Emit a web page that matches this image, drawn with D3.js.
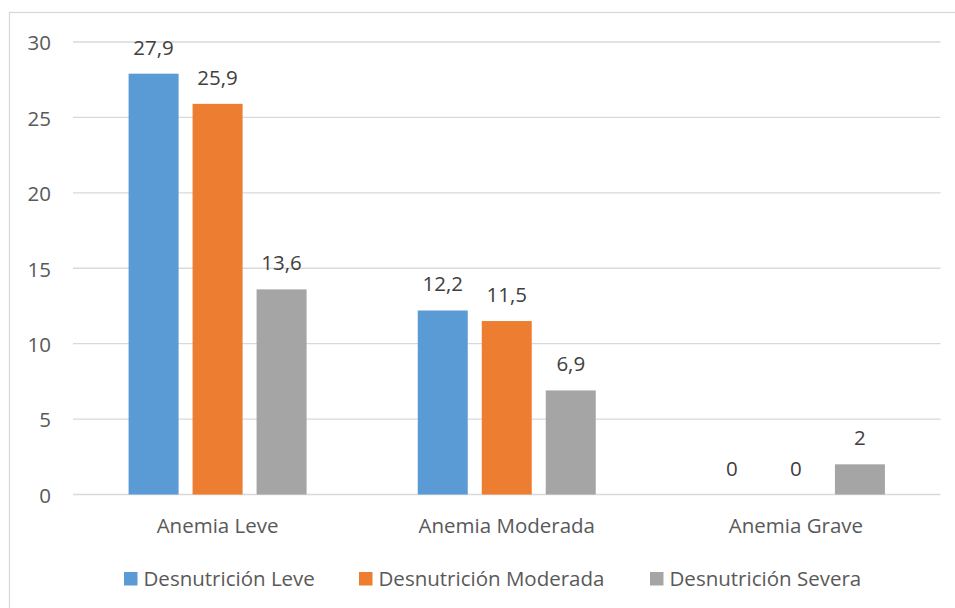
<!DOCTYPE html>
<html>
<head>
<meta charset="utf-8">
<script src="https://cdn.jsdelivr.net/npm/d3@7"></script>
<style>
  html, body { margin: 0; padding: 0; background: #fff; }
  svg { display: block; font-family: "Open Sans", "Noto Sans", sans-serif; }
</style>
</head>
<body>
<svg id="chart" width="955" height="608"></svg>
<script>
// Anemia category on the x axis, malnutrition level as the series
const categories = ["Anemia Leve", "Anemia Moderada", "Anemia Grave"];
const seriesNames = ["Desnutrición Leve", "Desnutrición Moderada", "Desnutrición Severa"];
const desnutricionLeve = [27.9, 12.2, 0];
const desnutricionModerada = [25.9, 11.5, 0];
const desnutricionSevera = [13.6, 6.9, 2];
const yTicks = [0, 5, 10, 15, 20, 25, 30];
const colors = ["#5b9bd5", "#ed7d31", "#a5a5a5"];

const seriesValues = [desnutricionLeve, desnutricionModerada, desnutricionSevera];

const svg = d3.select("#chart");
const plot = { left: 73, right: 940.5, top: 42, bottom: 494.5 };
const fontSize = 20.5;
const fontFamily = "\"Open Sans\", sans-serif";

// outer chart frame
svg.append("rect")
  .attr("x", 9.5).attr("y", 12.5)
  .attr("width", 960).attr("height", 610)
  .attr("fill", "none").attr("stroke", "#d9d9d9").attr("stroke-width", 1.3);

const x0 = d3.scaleBand().domain(categories).range([plot.left, plot.right]).padding(0);
const y = d3.scaleLinear().domain([0, 30]).range([plot.bottom, plot.top]);

// bars are 50px wide with 14px gaps inside each category band
const barW = 50, barGap = 14;
const x1 = d3.scaleOrdinal().domain(seriesNames)
  .range(seriesNames.map((s, i) => (i - 1) * (barW + barGap) - barW / 2));

// horizontal gridlines
svg.append("g").selectAll("line").data(yTicks).join("line")
  .attr("x1", plot.left).attr("x2", plot.right)
  .attr("y1", d => y(d)).attr("y2", d => y(d))
  .attr("stroke", "#d9d9d9").attr("stroke-width", 1.3);

// y axis labels
const yAxis = d3.axisLeft(y).tickValues(yTicks).tickSize(0).tickPadding(0).tickFormat(d3.format("d"));
const gy = svg.append("g").attr("transform", "translate(51,0)").call(yAxis);
gy.select(".domain").remove();
gy.selectAll("text").attr("font-size", fontSize).attr("fill", "#595959")
  .attr("font-family", fontFamily).attr("dy", "0.38em");

// x axis labels
const xAxis = d3.axisBottom(x0).tickSize(0).tickPadding(0);
const gx = svg.append("g").attr("transform", `translate(0,${plot.bottom})`).call(xAxis);
gx.select(".domain").remove();
gx.selectAll("text").attr("font-size", fontSize).attr("fill", "#595959")
  .attr("font-family", fontFamily).attr("y", 38.5).attr("dy", 0);

// bars and value labels
const fmt = v => String(v).replace(".", ",");
categories.forEach((cat, ci) => {
  const g = svg.append("g").attr("transform", `translate(${x0(cat) + x0.bandwidth() / 2},0)`);
  seriesNames.forEach((s, si) => {
    const v = seriesValues[si][ci];
    if (v > 0) {
      g.append("rect")
        .attr("x", x1(s)).attr("width", barW)
        .attr("y", y(v)).attr("height", y(0) - y(v))
        .attr("fill", colors[si]);
    }
    g.append("text")
      .attr("x", x1(s) + barW / 2).attr("y", y(v) - 19)
      .attr("text-anchor", "middle")
      .attr("font-size", fontSize).attr("fill", "#404040")
      .text(fmt(v));
  });
});

// legend
const legendX = [124, 359, 650];
const lg = svg.append("g");
seriesNames.forEach((s, i) => {
  lg.append("rect").attr("x", legendX[i]).attr("y", 572).attr("width", 13.5).attr("height", 13.5)
    .attr("fill", colors[i]);
  lg.append("text").attr("x", legendX[i] + 19.5).attr("y", 586)
    .attr("font-size", fontSize).attr("fill", "#595959").text(s);
});
</script>
</body>
</html>
